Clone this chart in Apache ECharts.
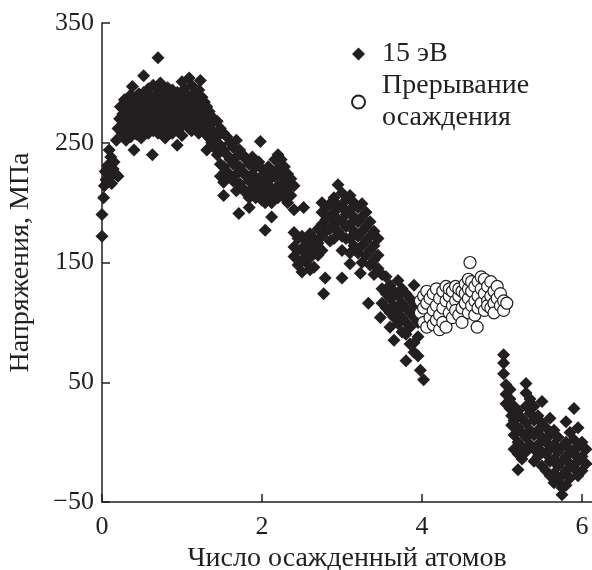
<!DOCTYPE html>
<html>
<head>
<meta charset="utf-8">
<script src="https://cdn.jsdelivr.net/npm/echarts@6/dist/echarts.min.js"></script>
<style>
  html, body { margin: 0; padding: 0; background: #fff; }
  #chart { width: 592px; height: 570px; }
</style>
</head>
<body>
<div id="chart"></div>
<script>
// Axis ticks
const xTicks = [0, 2, 4, 6];
const yTicks = [-50, 50, 150, 250, 350];
const seriesNames = ['15 эВ', 'Прерывание\nосаждения'];

// Stress during deposition at 15 eV: each row is [atoms, stress, stress, ...]
const depositRows = [
  [0.00, 172, 190], [0.02, 204], [0.03, 214], [0.04, 226], [0.05, 219], [0.07, 231],
  [0.08, 218], [0.09, 244], [0.10, 222], [0.11, 238], [0.12, 216], [0.14, 228],
  [0.15, 234], [0.17, 224], [0.20, 222, 262], [0.18, 252], [0.22, 270], [0.23, 280],
  [0.25, 258], [0.26, 274], [0.28, 286], [0.29, 266], [0.30, 252], [0.31, 278],
  [0.33, 284, 270, 260], [0.36, 290, 277, 265, 255], [0.38, 297],
  [0.40, 286, 273, 262, 244], [0.43, 280, 268, 257], [0.46, 291, 278, 266],
  [0.49, 285, 272, 262, 254], [0.52, 306, 292, 280, 268], [0.55, 286, 274, 262],
  [0.58, 295, 282, 270, 258], [0.61, 288, 276, 264], [0.63, 240],
  [0.64, 298, 284, 272, 260], [0.67, 290, 278, 266], [0.70, 321, 294, 282, 270, 258],
  [0.73, 300, 287, 275, 263], [0.76, 292, 280, 268], [0.79, 286, 274, 262, 254],
  [0.82, 296, 283, 271], [0.85, 289, 277, 265], [0.88, 294, 281, 269, 258],
  [0.91, 287, 275, 263], [0.94, 292, 280, 268, 248], [0.97, 286, 274, 262],
  [1.00, 301, 289, 277, 265, 256], [1.03, 295, 283, 271], [1.06, 290, 278, 266],
  [1.09, 304, 286, 274, 262], [1.12, 298, 285, 272, 260], [1.15, 292, 280, 268],
  [1.18, 288, 276, 264], [1.21, 294, 282, 270, 258], [1.23, 302], [1.25, 288, 276, 264],
  [1.28, 284, 272, 260], [1.31, 280, 268, 256, 244], [1.34, 276, 264, 254],
  [1.37, 272, 260, 250], [1.40, 268, 256, 246],
  [1.44, 268, 255, 240], [1.48, 262, 248, 232, 222], [1.52, 258, 244, 230, 217, 206],
  [1.56, 255, 240, 226], [1.60, 250, 236, 222], [1.64, 246, 232, 218],
  [1.68, 252, 238, 224, 210], [1.71, 191], [1.72, 244, 230, 216], [1.76, 240, 226, 212],
  [1.80, 236, 222, 208], [1.84, 232, 218, 204, 196], [1.88, 238, 224, 212],
  [1.92, 230, 216, 204], [1.96, 234, 220, 208], [1.98, 251], [2.00, 228, 214, 202],
  [2.04, 224, 210, 200, 177], [2.08, 230, 218, 206], [2.12, 226, 212, 200, 188],
  [2.16, 236, 222, 210], [2.20, 240, 228, 214, 204], [2.24, 236, 222, 208],
  [2.28, 230, 216, 204], [2.32, 224, 212, 200], [2.36, 220, 206], [2.40, 214, 194],
  [2.40, 175, 163, 155], [2.45, 170, 160, 148], [2.50, 172, 162, 152, 142],
  [2.52, 196], [2.55, 168, 158, 150], [2.60, 174, 164, 154, 144], [2.65, 170, 160, 146],
  [2.70, 178, 166, 156], [2.75, 200, 192, 182, 172, 160], [2.77, 124], [2.79, 137],
  [2.80, 196, 186, 176], [2.85, 199, 188, 178, 168], [2.90, 204, 192, 182, 170],
  [2.95, 215, 198, 186, 176], [3.00, 208, 196, 184, 172, 160, 137],
  [3.05, 202, 190, 180, 170], [3.10, 206, 194, 182, 170, 158, 149],
  [3.15, 200, 188, 176, 164], [3.20, 196, 184, 172, 158], [3.23, 141],
  [3.25, 199, 188, 176, 164, 150], [3.30, 192, 180, 168, 156], [3.33, 116],
  [3.35, 184, 172, 160, 148], [3.40, 176, 164, 152, 140], [3.45, 170, 156, 145],
  [3.48, 104], [3.50, 140, 128, 116], [3.55, 138, 124, 112],
  [3.60, 131, 120, 108, 96], [3.65, 126, 114, 104, 85], [3.70, 135, 122, 110, 99],
  [3.75, 128, 116, 104, 92], [3.80, 124, 112, 100, 90, 68], [3.85, 120, 108, 96, 82],
  [3.90, 131, 116, 104, 83, 75], [3.95, 112, 100, 88, 72], [3.98, 60], [4.02, 52],
  [5.02, 73, 66, 57], [5.05, 48, 40, 32], [5.10, 44, 36, 28], [5.12, 22, 14],
  [5.15, 30, 18, 6, -6], [5.20, 26, 12, 0, -10, -23], [5.25, 20, 8, -4, -14],
  [5.30, 49, 41, 30, 16, 4, -8], [5.35, 36, 24, 10, -2], [5.40, 30, 18, 6, -6, -16],
  [5.45, 22, 10, -2, -12], [5.50, 34, 16, 4, -8, -20], [5.55, 12, 0, -10, -24],
  [5.60, 20, 6, -6, -16, -28], [5.65, 10, -2, -14, -26, -34], [5.70, 4, -8, -20, -32],
  [5.75, -4, -16, -28, -38, -44], [5.80, 17, 0, -12, -24, -36], [5.85, 8, -6, -18, -30],
  [5.90, 28, 2, -10, -22], [5.95, 12, -4, -16, -28], [6.00, 0, -12, -24],
  [6.05, -6, -18]
];

// Stress while deposition is paused
const pauseRows = [
  [3.98, 108, 118], [4.02, 100, 112, 122], [4.06, 96, 116, 126], [4.10, 104, 120],
  [4.14, 110, 124, 98], [4.18, 114, 128, 102], [4.22, 94, 106, 120],
  [4.26, 112, 126, 100], [4.30, 118, 96, 130], [4.34, 108, 122, 128],
  [4.38, 114, 104, 126], [4.42, 118, 130, 110], [4.46, 106, 122, 128],
  [4.50, 112, 126, 100], [4.54, 116, 132, 124], [4.58, 108, 120, 128, 136],
  [4.60, 150], [4.62, 114, 126, 134], [4.66, 118, 130, 106], [4.69, 96],
  [4.70, 122, 134, 112], [4.74, 116, 128, 138], [4.78, 110, 124, 136],
  [4.82, 118, 130, 114], [4.86, 122, 134, 112], [4.90, 116, 126, 108],
  [4.94, 120, 130], [4.98, 114, 124], [5.02, 118, 110], [5.06, 116]
];

function toPoints(rows) {
  return rows.flatMap(r => r.slice(1).map(v => [r[0], v]));
}

const ink = '#231f20';
const serif = '"Liberation Serif", "DejaVu Serif", serif';
const titleSize = 28;
const tickSize = 26;

const chart = echarts.init(document.getElementById('chart'));
chart.setOption({
  animation: false,
  backgroundColor: '#fff',
  grid: { left: 102, right: 0, top: 23, bottom: 68, containLabel: false, outerBoundsMode: 'none' },
  legend: {
    orient: 'vertical',
    left: 351,
    top: 38,
    padding: 0,
    itemGap: 0,
    itemWidth: 13,
    itemHeight: 13,
    selectedMode: false,
    textStyle: { fontFamily: serif, fontSize: titleSize, lineHeight: 32, color: ink, padding: [0, 0, 0, 12] },
    data: [
      { name: seriesNames[0], icon: 'diamond' },
      { name: seriesNames[1], icon: 'circle' }
    ]
  },
  xAxis: {
    type: 'value',
    min: 0,
    max: 6.125,
    name: 'Число осажденный атомов',
    nameLocation: 'middle',
    nameGap: 42,
    nameTextStyle: { fontFamily: serif, fontSize: titleSize, color: ink },
    axisLine: { show: true, onZero: false, lineStyle: { color: ink, width: 1.5 } },
    axisTick: { show: true, inside: true, length: 8, customValues: xTicks, lineStyle: { color: ink, width: 1.5 } },
    axisLabel: { customValues: xTicks, fontFamily: serif, fontSize: tickSize, color: ink, margin: 12 },
    splitLine: { show: false }
  },
  yAxis: {
    type: 'value',
    min: -50,
    max: 350,
    name: 'Напряжения, МПа',
    nameLocation: 'middle',
    nameRotate: 90,
    nameGap: 67,
    nameTextStyle: { fontFamily: serif, fontSize: titleSize, color: ink },
    axisLine: { show: true, onZero: false, lineStyle: { color: ink, width: 1.5 } },
    axisTick: { show: true, inside: true, length: 8, customValues: yTicks, lineStyle: { color: ink, width: 1.5 } },
    axisLabel: { customValues: yTicks, fontFamily: serif, fontSize: tickSize, color: ink, margin: 8,
      formatter: v => (v < 0 ? '\u2212' + Math.abs(v) : String(v)) },
    splitLine: { show: false }
  },
  series: [
    {
      name: seriesNames[0],
      type: 'scatter',
      symbol: 'diamond',
      symbolSize: 13,
      clip: false,
      itemStyle: { color: ink, opacity: 1 },
      data: toPoints(depositRows)
    },
    {
      name: seriesNames[1],
      type: 'scatter',
      symbol: 'circle',
      symbolSize: 12,
      clip: false,
      itemStyle: { color: '#fff', borderColor: ink, borderWidth: 1.2, opacity: 1 },
      data: toPoints(pauseRows)
    }
  ]
});
</script>
</body>
</html>
